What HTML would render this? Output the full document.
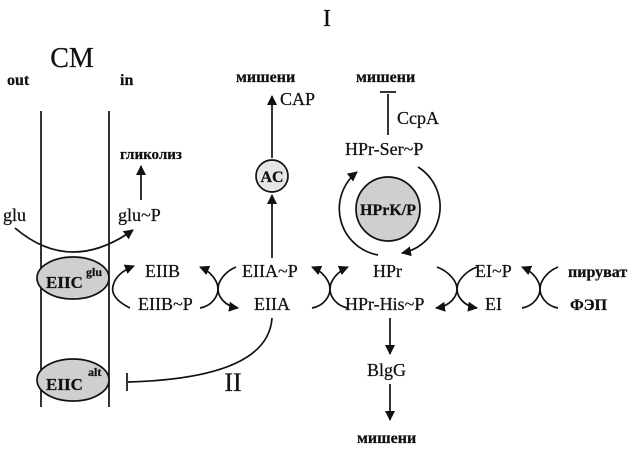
<!DOCTYPE html>
<html><head><meta charset="utf-8"><style>
html,body{margin:0;padding:0;background:#fff}
svg{display:block}
text{font-family:"Liberation Serif","DejaVu Serif",serif;fill:#111;stroke:#111;stroke-width:0.25}
</style></head><body>
<svg width="636" height="451" viewBox="0 0 636 451" xmlns="http://www.w3.org/2000/svg">
<defs>
<marker id="a" viewBox="0 0 10 10" refX="9" refY="5" markerWidth="10" markerHeight="10" markerUnits="userSpaceOnUse" orient="auto-start-reverse"><path d="M0,0 L10,5 L0,10 z" fill="#111"/></marker>
</defs>
<g stroke="#111" stroke-width="1.7" fill="none">
<line x1="41" y1="111" x2="41" y2="407"/>
<line x1="109" y1="111" x2="109" y2="407"/>
<line x1="141" y1="200" x2="141" y2="166" marker-end="url(#a)"/>
<path d="M15 228 Q70 275 133 230" marker-end="url(#a)"/>
<line x1="272" y1="258" x2="272" y2="195" marker-end="url(#a)"/>
<line x1="272" y1="158" x2="272" y2="96" marker-end="url(#a)"/>
<line x1="388" y1="135" x2="388" y2="94"/>
<line x1="380" y1="92" x2="396" y2="92"/>
<line x1="390" y1="318" x2="390" y2="354" marker-end="url(#a)"/>
<line x1="390" y1="384" x2="390" y2="420" marker-end="url(#a)"/>
<path d="M272 318 Q268 378 128 382"/>
<line x1="127" y1="373" x2="127" y2="391"/>
<path d="M378 255 A47 47 0 0 1 357 172" marker-end="url(#a)"/>
<path d="M418 167 A47 47 0 0 1 402 253" marker-end="url(#a)"/>
<path d="M130 308 Q110 298 113 286 Q116 273 134 266" marker-end="url(#a)"/>
<path d="M200 267 C212 272,218 282,218 289 C218 296,224 306,238 308" marker-start="url(#a)" marker-end="url(#a)"/>
<path d="M236 267 C224 272,218 282,218 289 C218 296,212 306,200 308"/>
<path d="M312 267 C324 272,330 282,330 289 C330 296,336 306,348 308" marker-start="url(#a)"/>
<path d="M348 267 C336 272,330 282,330 289 C330 296,324 306,312 308" marker-start="url(#a)"/>
<path d="M437 267 C450 272,457 282,457 289 C457 296,463 306,477 308" marker-end="url(#a)"/>
<path d="M477 267 C464 272,457 282,457 289 C457 296,451 306,436 308" marker-end="url(#a)"/>
<path d="M522 267 C534 272,540 282,540 289 C540 296,546 306,558 308" marker-start="url(#a)"/>
<path d="M558 267 C546 272,540 282,540 289 C540 296,534 306,522 308"/>
</g>
<ellipse cx="73" cy="278" rx="36" ry="21" fill="#cfcfcf" stroke="#111" stroke-width="1.7"/>
<ellipse cx="73" cy="380" rx="36" ry="21" fill="#cfcfcf" stroke="#111" stroke-width="1.7"/>
<circle cx="272" cy="176" r="16" fill="#e6e6e6" stroke="#111" stroke-width="1.7"/>
<circle cx="388" cy="209" r="32" fill="#cfcfcf" stroke="#111" stroke-width="1.7"/>
<text x="327" y="26" font-size="24" text-anchor="middle">I</text>
<text x="72" y="67" font-size="28" text-anchor="middle">CM</text>
<text x="7" y="85" font-size="16" font-weight="bold">out</text>
<text x="120" y="85" font-size="16" font-weight="bold">in</text>
<text x="120" y="159" font-size="15" font-weight="bold">гликолиз</text>
<text x="3" y="221" font-size="18">glu</text>
<text x="118" y="221" font-size="18">glu~P</text>
<text x="46" y="288" font-size="17" font-weight="bold">EIIC</text><text x="86" y="276" font-size="12" font-weight="bold">glu</text>
<text x="46" y="390" font-size="17" font-weight="bold">EIIC</text><text x="88" y="376" font-size="12" font-weight="bold">alt</text>
<text x="145" y="277" font-size="18">EIIB</text>
<text x="138" y="310" font-size="18">EIIB~P</text>
<text x="242" y="277" font-size="18">EIIA~P</text>
<text x="254" y="310" font-size="18">EIIA</text>
<text x="373" y="277" font-size="18">HPr</text>
<text x="345" y="310" font-size="18">HPr-His~P</text>
<text x="475" y="277" font-size="18">EI~P</text>
<text x="485" y="310" font-size="18">EI</text>
<text x="568" y="277" font-size="16" font-weight="bold">пируват</text>
<text x="570" y="310" font-size="16" font-weight="bold">ФЭП</text>
<text x="272" y="182" font-size="16" font-weight="bold" text-anchor="middle">AC</text>
<text x="388" y="215" font-size="16" font-weight="bold" text-anchor="middle">HPrK/P</text>
<text x="236" y="82" font-size="16" font-weight="bold">мишени</text>
<text x="280" y="105" font-size="18">CAP</text>
<text x="356" y="82" font-size="16" font-weight="bold">мишени</text>
<text x="397" y="124" font-size="18">CcpA</text>
<text x="345" y="155" font-size="18">HPr-Ser~P</text>
<text x="367" y="376" font-size="18">BlgG</text>
<text x="357" y="443" font-size="16" font-weight="bold">мишени</text>
<text x="233" y="391" font-size="26" text-anchor="middle">II</text>
</svg>
</body></html>
